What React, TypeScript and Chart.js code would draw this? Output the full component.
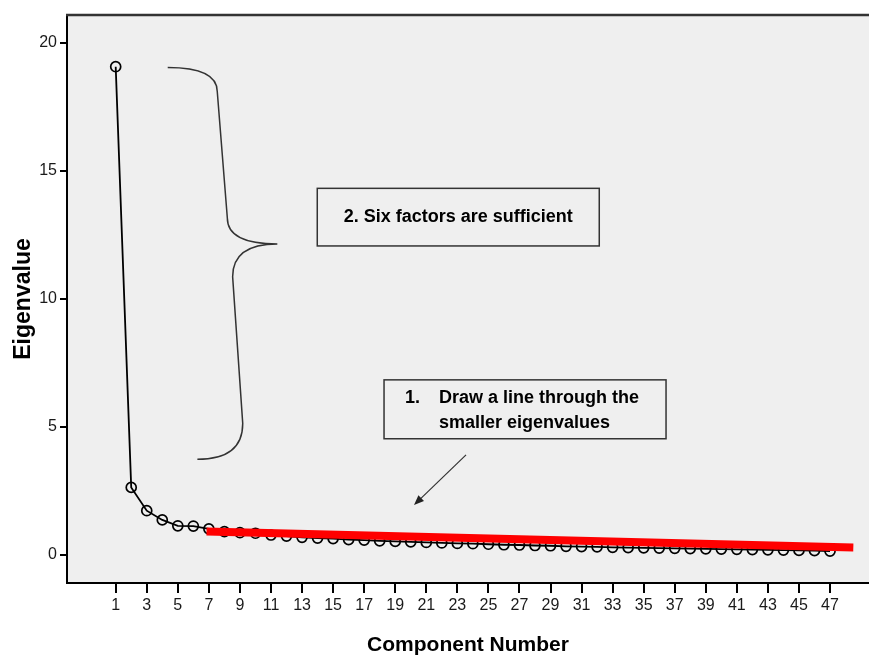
import React, { useEffect, useRef } from "react";
import { Chart, registerables } from "chart.js";

Chart.register(...registerables);

// ---------- data ----------
const componentNumbers = [
  1, 2, 3, 4, 5, 6, 7, 8, 9, 10, 11, 12, 13, 14, 15, 16, 17, 18, 19, 20, 21, 22, 23, 24,
  25, 26, 27, 28, 29, 30, 31, 32, 33, 34, 35, 36, 37, 38, 39, 40, 41, 42, 43, 44, 45, 46, 47,
];
const eigenvalues = [
  19.07, 2.64, 1.73, 1.37, 1.14, 1.13, 1.02, 0.91, 0.87, 0.85, 0.78, 0.74, 0.69, 0.66, 0.64,
  0.6, 0.58, 0.55, 0.53, 0.51, 0.49, 0.47, 0.45, 0.44, 0.42, 0.4, 0.39, 0.37, 0.36, 0.34,
  0.33, 0.32, 0.3, 0.29, 0.28, 0.27, 0.26, 0.25, 0.24, 0.23, 0.22, 0.21, 0.2, 0.19, 0.18,
  0.17, 0.15,
];
const xTickValues = [
  1, 3, 5, 7, 9, 11, 13, 15, 17, 19, 21, 23, 25, 27, 29, 31, 33, 35, 37, 39, 41, 43, 45, 47,
];
const yTickValues = [0, 5, 10, 15, 20];

// red fitted line through the smaller eigenvalues (start, end)
const fitLineX = [6.85, 48.5];
const fitLineY = [0.92, 0.29];

// annotation geometry in data units
const braceAnchors = [
  [4.35, 19.04],
  [7.54, 18.1],
  [8.19, 13.15],
  [11.41, 12.15],
  [8.53, 10.87],
  [9.18, 5.14],
  [6.26, 3.74],
];
const box1 = { x1: 13.98, y1: 14.32, x2: 32.14, y2: 12.07 };
const box1Text = "2. Six factors are sufficient";
const box2 = { x1: 18.28, y1: 6.84, x2: 36.44, y2: 4.54 };
const box2Number = "1.";
const box2Lines = ["Draw a line through the", "smaller eigenvalues"];
const arrowFrom = [23.56, 3.91];
const arrowTo = [20.21, 1.95];

const FONT = '"Liberation Sans", Arial, Helvetica, sans-serif';

const backgroundPlugin = {
  id: "plotBackground",
  beforeDraw(chart: any) {
    const { ctx, chartArea } = chart;
    ctx.save();
    ctx.fillStyle = "#ffffff";
    ctx.fillRect(0, 0, chart.width, chart.height);
    ctx.fillStyle = "#efefef";
    ctx.fillRect(chartArea.left, chartArea.top, chartArea.right - chartArea.left, chartArea.bottom - chartArea.top);
    ctx.restore();
  },
  afterDraw(chart: any) {
    const { ctx, chartArea } = chart;
    ctx.save();
    ctx.strokeStyle = "#333333";
    ctx.lineWidth = 2.5;
    ctx.beginPath();
    ctx.moveTo(chartArea.left - 1, chartArea.top);
    ctx.lineTo(chartArea.right, chartArea.top);
    ctx.stroke();
    ctx.restore();
  },
};

const annotationPlugin = {
  id: "annotations",
  afterDatasetsDraw(chart: any) {
    const { ctx } = chart;
    const xs = chart.scales.x;
    const ys = chart.scales.y;
    const X = (v: number) => xs.getPixelForValue(v);
    const Y = (v: number) => ys.getPixelForValue(v);
    ctx.save();

    // curly brace
    const p = braceAnchors.map(([a, b]) => ({ x: X(a), y: Y(b) }));
    ctx.strokeStyle = "#333333";
    ctx.lineWidth = 1.5;
    ctx.beginPath();
    ctx.moveTo(p[0].x, p[0].y);
    ctx.quadraticCurveTo(p[1].x, p[0].y, p[1].x, p[1].y);
    ctx.lineTo(p[2].x, p[2].y);
    ctx.quadraticCurveTo(p[2].x, p[3].y, p[3].x, p[3].y);
    ctx.quadraticCurveTo(p[4].x, p[3].y, p[4].x, p[4].y);
    ctx.lineTo(p[5].x, p[5].y);
    ctx.quadraticCurveTo(p[5].x, p[6].y, p[6].x, p[6].y);
    ctx.stroke();

    // boxes
    ctx.strokeStyle = "#333333";
    ctx.lineWidth = 1.5;
    const drawBox = (b: any) => {
      const l = X(b.x1), t = Y(b.y1), r = X(b.x2), btm = Y(b.y2);
      ctx.strokeRect(l, t, r - l, btm - t);
      return { l, t, r, b: btm };
    };
    ctx.fillStyle = "#000000";
    ctx.font = `bold 18px ${FONT}`;
    const r1 = drawBox(box1);
    ctx.textAlign = "center";
    ctx.textBaseline = "middle";
    ctx.fillText(box1Text, (r1.l + r1.r) / 2, (r1.t + r1.b) / 2);

    const r2 = drawBox(box2);
    ctx.textAlign = "left";
    ctx.fillText(box2Number, r2.l + 21, r2.t + 18);
    ctx.fillText(box2Lines[0], r2.l + 55, r2.t + 18);
    ctx.fillText(box2Lines[1], r2.l + 55, r2.t + 43);

    // arrow
    const sx = X(arrowFrom[0]), sy = Y(arrowFrom[1]);
    const ex = X(arrowTo[0]), ey = Y(arrowTo[1]);
    const ang = Math.atan2(ey - sy, ex - sx);
    const head = 10;
    ctx.strokeStyle = "#333333";
    ctx.lineWidth = 1.2;
    ctx.beginPath();
    ctx.moveTo(sx, sy);
    ctx.lineTo(ex - Math.cos(ang) * head * 0.6, ey - Math.sin(ang) * head * 0.6);
    ctx.stroke();
    ctx.fillStyle = "#222222";
    ctx.beginPath();
    ctx.moveTo(ex, ey);
    ctx.lineTo(ex - head * Math.cos(ang) + 4 * Math.sin(ang), ey - head * Math.sin(ang) - 4 * Math.cos(ang));
    ctx.lineTo(ex - head * Math.cos(ang) - 4 * Math.sin(ang), ey - head * Math.sin(ang) + 4 * Math.cos(ang));
    ctx.closePath();
    ctx.fill();

    ctx.restore();
  },
};

export default function App() {
  const canvasRef = useRef<HTMLCanvasElement | null>(null);

  useEffect(() => {
    if (!canvasRef.current) return;
    const screeData = componentNumbers.map((c, i) => ({ x: c, y: eigenvalues[i] }));
    const fitData = fitLineX.map((x, i) => ({ x, y: fitLineY[i] }));

    const chart = new Chart(canvasRef.current, {
      type: "line",
      data: {
        datasets: [
          {
            label: "fit",
            data: fitData,
            borderColor: "#ff0000",
            borderWidth: 8,
            borderCapStyle: "butt",
            pointRadius: 0,
            fill: false,
            tension: 0,
          },
          {
            label: "Eigenvalue",
            data: screeData,
            borderColor: "#000000",
            borderWidth: 1.8,
            pointRadius: 5,
            pointBorderWidth: 1.7,
            pointBorderColor: "#000000",
            pointBackgroundColor: "rgba(0,0,0,0)",
            fill: false,
            tension: 0,
          },
        ],
      },
      options: {
        animation: false,
        responsive: true,
        maintainAspectRatio: false,
        layout: { autoPadding: false, padding: { top: 15, right: 0, bottom: 0, left: 0 } },
        plugins: {
          legend: { display: false },
          tooltip: { enabled: false },
        },
        scales: {
          x: {
            type: "linear",
            min: -2.136,
            max: 49.51,
            afterBuildTicks: (s: any) => {
              s.ticks = xTickValues.map((v) => ({ value: v }));
            },
            afterFit: (s: any) => {
              s.height = 74;
              s.paddingLeft = 0;
              s.paddingRight = 0;
            },
            ticks: {
              autoSkip: false,
              maxRotation: 0,
              padding: 3,
              color: "#1a1a1a",
              font: { family: FONT, size: 16 },
            },
            grid: {
              display: true,
              drawOnChartArea: false,
              drawTicks: true,
              tickLength: 10,
              color: "#000000",
              lineWidth: 2,
            },
            border: { display: true, color: "#000000", width: 2 },
            title: {
              display: true,
              text: "Component Number",
              color: "#000000",
              font: { family: FONT, size: 21, weight: "bold", lineHeight: 1 },
              padding: { top: 0, bottom: 1.5 },
            },
          },
          y: {
            type: "linear",
            min: -1.094,
            max: 21.09,
            afterBuildTicks: (s: any) => {
              s.ticks = yTickValues.map((v) => ({ value: v }));
            },
            afterFit: (s: any) => {
              s.width = 67;
              s.paddingTop = 0;
              s.paddingBottom = 0;
            },
            ticks: {
              padding: 3,
              color: "#1a1a1a",
              font: { family: FONT, size: 16 },
            },
            grid: {
              display: true,
              drawOnChartArea: false,
              drawTicks: true,
              tickLength: 7,
              color: "#000000",
              lineWidth: 2,
            },
            border: { display: true, color: "#000000", width: 2 },
            title: {
              display: true,
              text: "Eigenvalue",
              color: "#000000",
              font: { family: FONT, size: 23, weight: "bold", lineHeight: 1 },
              padding: { top: 12, bottom: 0 },
            },
          },
        },
      },
      plugins: [backgroundPlugin, annotationPlugin],
    } as any);

    return () => chart.destroy();
  }, []);

  return (
    <div style={{ position: "absolute", left: 0, top: 0, width: 869, height: 657, background: "#fff" }}>
      <canvas ref={canvasRef} />
    </div>
  );
}
